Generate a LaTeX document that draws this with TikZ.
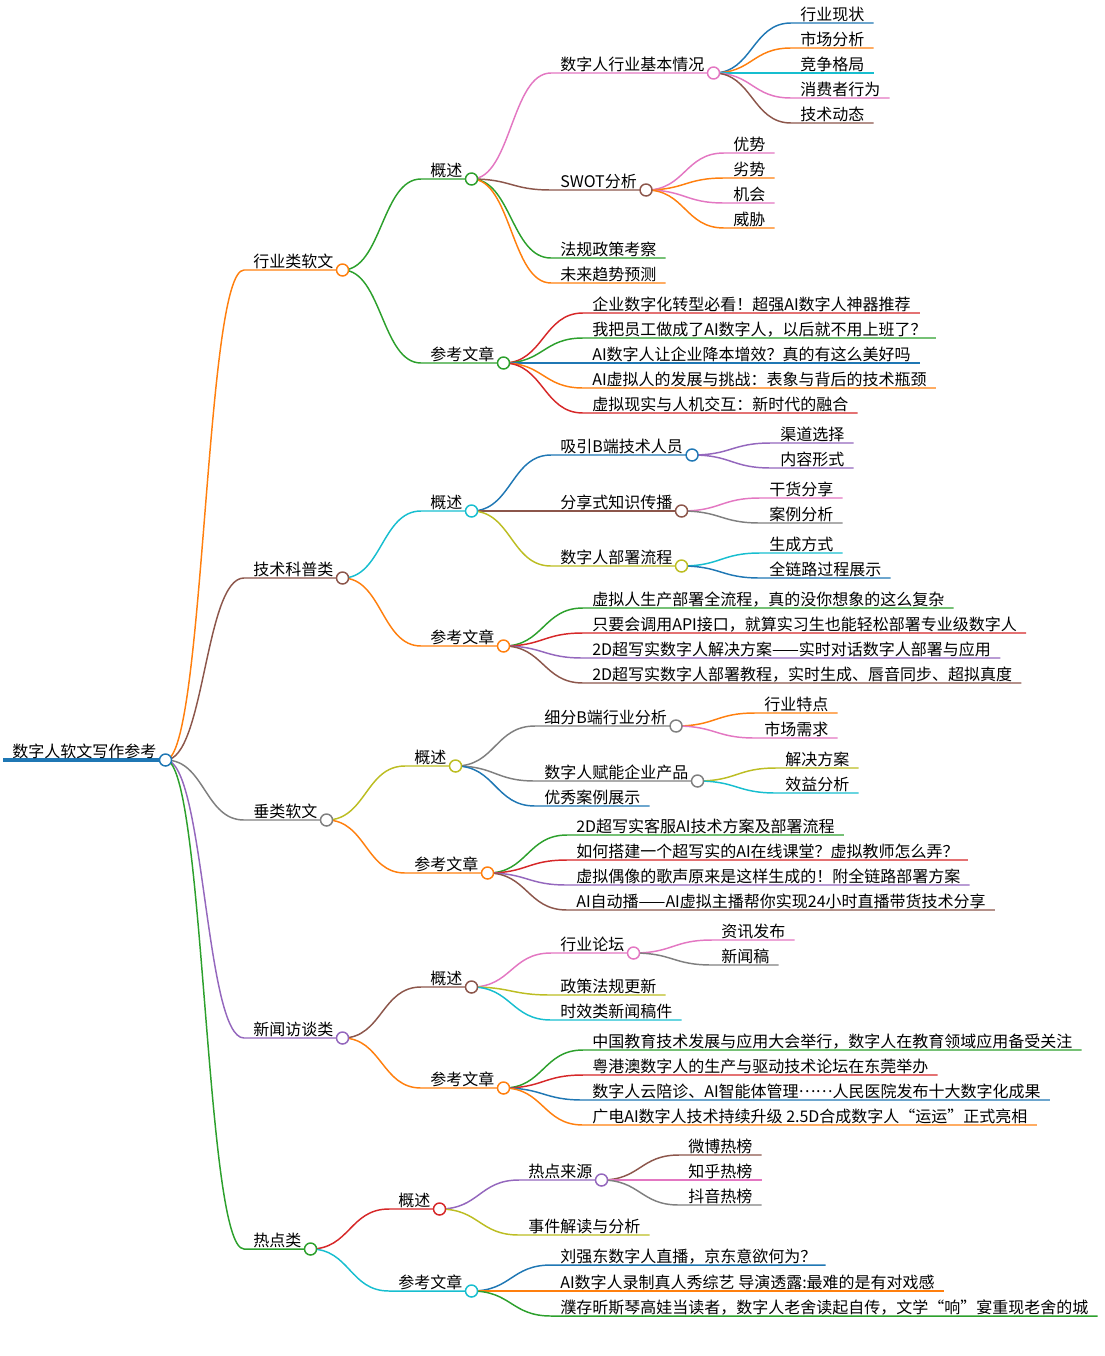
\documentclass[tikz,border=0pt]{standalone}
\usepackage{fontspec}
\setmainfont{Noto Sans CJK SC}
\usetikzlibrary{calc,backgrounds}

\definecolor{mBlue}{HTML}{1F77B4}
\definecolor{mOrange}{HTML}{FF7F0E}
\definecolor{mGreen}{HTML}{2CA02C}
\definecolor{mRed}{HTML}{D62728}
\definecolor{mPurple}{HTML}{9467BD}
\definecolor{mBrown}{HTML}{8C564B}
\definecolor{mPink}{HTML}{E377C2}
\definecolor{mGray}{HTML}{7F7F7F}
\definecolor{mOlive}{HTML}{BCBD22}
\definecolor{mCyan}{HTML}{17BECF}

\begin{document}
\begin{tikzpicture}[x=0.75pt,y=-0.75pt,
  topic/.style={anchor=south west,inner xsep=6.75pt,inner ysep=0.6pt,
    text height=0.8em,text depth=0.1em,font=\fontsize{12}{14}\selectfont},
  hub/.style={circle,draw=#1,fill=white,line width=1.1pt,minimum size=9pt,inner sep=0pt},
  link/.style={line width=1.1pt,
    to path={(\tikztostart.south east)
      .. controls ($(\tikztostart.south east)!0.5!(\tikztostart.south east -| \tikztotarget.south west)$)
      and ($(\tikztotarget.south west)!0.5!(\tikztotarget.south west -| \tikztostart.south east)$)
      .. (\tikztotarget.south west) -- (\tikztotarget.south east)}}]

  \useasboundingbox (0,0) rectangle (1104,1356);

  \node[topic] (root) at (3,760) {数字人软文写作参考};

  \node[topic] (ind) at (244,270) {行业类软文};
  \node[topic] (tech) at (244,578) {技术科普类};
  \node[topic] (vert) at (244,820) {垂类软文};
  \node[topic] (news) at (244,1038) {新闻访谈类};
  \node[topic] (hot) at (244,1249) {热点类};

  % 行业类软文
  \node[topic] (ind-ov) at (421,179) {概述};
  \node[topic] (ind-ref) at (421,363) {参考文章};

  \node[topic] (ind-ov-1) at (551,73) {数字人行业基本情况};
  \node[topic] (ind-ov-2) at (551,190) {SWOT分析};
  \node[topic] (ind-ov-3) at (551,258) {法规政策考察};
  \node[topic] (ind-ov-4) at (551,283) {未来趋势预测};

  \node[topic] (ind-ov-1a) at (791,23) {行业现状};
  \node[topic] (ind-ov-1b) at (791,48) {市场分析};
  \node[topic] (ind-ov-1c) at (791,73) {竞争格局};
  \node[topic] (ind-ov-1d) at (791,98) {消费者行为};
  \node[topic] (ind-ov-1e) at (791,123) {技术动态};

  \node[topic] (ind-ov-2a) at (724,153) {优势};
  \node[topic] (ind-ov-2b) at (724,178) {劣势};
  \node[topic] (ind-ov-2c) at (724,203) {机会};
  \node[topic] (ind-ov-2d) at (724,228) {威胁};

  \node[topic] (ind-ref-1) at (583,313) {企业数字化转型必看！超强AI数字人神器推荐};
  \node[topic] (ind-ref-2) at (583,338) {我把员工做成了AI数字人，以后就不用上班了？};
  \node[topic] (ind-ref-3) at (583,363) {AI数字人让企业降本增效？真的有这么美好吗};
  \node[topic] (ind-ref-4) at (583,388) {AI虚拟人的发展与挑战：表象与背后的技术瓶颈};
  \node[topic] (ind-ref-5) at (583,413) {虚拟现实与人机交互：新时代的融合};

  % 技术科普类
  \node[topic] (tech-ov) at (421,511) {概述};
  \node[topic] (tech-ref) at (421,646) {参考文章};

  \node[topic] (tech-ov-1) at (551,455) {吸引B端技术人员};
  \node[topic] (tech-ov-2) at (551,511) {分享式知识传播};
  \node[topic] (tech-ov-3) at (551,566) {数字人部署流程};

  \node[topic] (tech-ov-1a) at (771,443) {渠道选择};
  \node[topic] (tech-ov-1b) at (771,468) {内容形式};
  \node[topic] (tech-ov-2a) at (760,498) {干货分享};
  \node[topic] (tech-ov-2b) at (760,523) {案例分析};
  \node[topic] (tech-ov-3a) at (760,553) {生成方式};
  \node[topic] (tech-ov-3b) at (760,578) {全链路过程展示};

  \node[topic] (tech-ref-1) at (583,608) {虚拟人生产部署全流程，真的没你想象的这么复杂};
  \node[topic] (tech-ref-2) at (583,633) {只要会调用API接口，就算实习生也能轻松部署专业级数字人};
  \node[topic] (tech-ref-3) at (583,658) {2D超写实数字人解决方案——实时对话数字人部署与应用};
  \node[topic] (tech-ref-4) at (583,683) {2D超写实数字人部署教程，实时生成、唇音同步、超拟真度};

  % 垂类软文
  \node[topic] (vert-ov) at (405,766) {概述};
  \node[topic] (vert-ref) at (405,873) {参考文章};

  \node[topic] (vert-ov-1) at (535,726) {细分B端行业分析};
  \node[topic] (vert-ov-2) at (535,781) {数字人赋能企业产品};
  \node[topic] (vert-ov-3) at (535,806) {优秀案例展示};

  \node[topic] (vert-ov-1a) at (755,713) {行业特点};
  \node[topic] (vert-ov-1b) at (755,738) {市场需求};
  \node[topic] (vert-ov-2a) at (776,768) {解决方案};
  \node[topic] (vert-ov-2b) at (776,793) {效益分析};

  \node[topic] (vert-ref-1) at (567,835) {2D超写实客服AI技术方案及部署流程};
  \node[topic] (vert-ref-2) at (567,860) {如何搭建一个超写实的AI在线课堂？虚拟教师怎么弄？};
  \node[topic] (vert-ref-3) at (567,885) {虚拟偶像的歌声原来是这样生成的！附全链路部署方案};
  \node[topic] (vert-ref-4) at (567,910) {AI自动播——AI虚拟主播帮你实现24小时直播带货技术分享};

  % 新闻访谈类
  \node[topic] (news-ov) at (421,987) {概述};
  \node[topic] (news-ref) at (421,1088) {参考文章};

  \node[topic] (news-ov-1) at (551,953) {行业论坛};
  \node[topic] (news-ov-2) at (551,995) {政策法规更新};
  \node[topic] (news-ov-3) at (551,1020) {时效类新闻稿件};

  \node[topic] (news-ov-1a) at (712,940) {资讯发布};
  \node[topic] (news-ov-1b) at (712,965) {新闻稿};

  \node[topic] (news-ref-1) at (583,1050) {中国教育技术发展与应用大会举行，数字人在教育领域应用备受关注};
  \node[topic] (news-ref-2) at (583,1075) {粤港澳数字人的生产与驱动技术论坛在东莞举办};
  \node[topic] (news-ref-3) at (583,1100) {数字人云陪诊、AI智能体管理\raisebox{0.32em}{……}人民医院发布十大数字化成果};
  \node[topic] (news-ref-4) at (583,1125) {广电AI数字人技术持续升级 2.5D合成数字人“运运”正式亮相};

  % 热点类
  \node[topic] (hot-ov) at (389,1209) {概述};
  \node[topic] (hot-ref) at (389,1291) {参考文章};

  \node[topic] (hot-ov-1) at (519,1180) {热点来源};
  \node[topic] (hot-ov-2) at (519,1235) {事件解读与分析};

  \node[topic] (hot-ov-1a) at (679,1155) {微博热榜};
  \node[topic] (hot-ov-1b) at (679,1180) {知乎热榜};
  \node[topic] (hot-ov-1c) at (679,1205) {抖音热榜};

  \node[topic] (hot-ref-1) at (551,1265) {刘强东数字人直播，京东意欲何为？};
  \node[topic] (hot-ref-2) at (551,1291) {AI数字人录制真人秀综艺 导演透露:最难的是有对戏感};
  \node[topic] (hot-ref-3) at (551,1316) {濮存昕斯琴高娃当读者，数字人老舍读起自传，文学“响”宴重现老舍的城};

  \begin{pgfonlayer}{background}
    \draw[mBlue,line width=3pt] (root.south west) -- (root.south east);
    \path[link]
      (root) edge[mOrange] (ind)
      (root) edge[mBrown] (tech)
      (root) edge[mGray] (vert)
      (root) edge[mPurple] (news)
      (root) edge[mGreen] (hot)

      (ind) edge[mGreen] (ind-ov)
      (ind) edge[mGreen] (ind-ref)
      (ind-ov) edge[mPink] (ind-ov-1)
      (ind-ov) edge[mBrown] (ind-ov-2)
      (ind-ov) edge[mGreen] (ind-ov-3)
      (ind-ov) edge[mOrange] (ind-ov-4)
      (ind-ov-1) edge[mBlue] (ind-ov-1a)
      (ind-ov-1) edge[mOrange] (ind-ov-1b)
      (ind-ov-1) edge[mCyan] (ind-ov-1c)
      (ind-ov-1) edge[mPink] (ind-ov-1d)
      (ind-ov-1) edge[mBrown] (ind-ov-1e)
      (ind-ov-2) edge[mPink] (ind-ov-2a)
      (ind-ov-2) edge[mOrange] (ind-ov-2b)
      (ind-ov-2) edge[mPink] (ind-ov-2c)
      (ind-ov-2) edge[mOrange] (ind-ov-2d)
      (ind-ref) edge[mRed] (ind-ref-1)
      (ind-ref) edge[mGreen] (ind-ref-2)
      (ind-ref) edge[mBlue] (ind-ref-3)
      (ind-ref) edge[mOrange] (ind-ref-4)
      (ind-ref) edge[mRed] (ind-ref-5)

      (tech) edge[mCyan] (tech-ov)
      (tech) edge[mOrange] (tech-ref)
      (tech-ov) edge[mBlue] (tech-ov-1)
      (tech-ov) edge[mBrown] (tech-ov-2)
      (tech-ov) edge[mOlive] (tech-ov-3)
      (tech-ov-1) edge[mPurple] (tech-ov-1a)
      (tech-ov-1) edge[mPurple] (tech-ov-1b)
      (tech-ov-2) edge[mPink] (tech-ov-2a)
      (tech-ov-2) edge[mGray] (tech-ov-2b)
      (tech-ov-3) edge[mCyan] (tech-ov-3a)
      (tech-ov-3) edge[mBlue] (tech-ov-3b)
      (tech-ref) edge[mGreen] (tech-ref-1)
      (tech-ref) edge[mRed] (tech-ref-2)
      (tech-ref) edge[mPurple] (tech-ref-3)
      (tech-ref) edge[mBrown] (tech-ref-4)

      (vert) edge[mOlive] (vert-ov)
      (vert) edge[mOrange] (vert-ref)
      (vert-ov) edge[mGray] (vert-ov-1)
      (vert-ov) edge[mGray] (vert-ov-2)
      (vert-ov) edge[mBlue] (vert-ov-3)
      (vert-ov-1) edge[mOrange] (vert-ov-1a)
      (vert-ov-1) edge[mPink] (vert-ov-1b)
      (vert-ov-2) edge[mOlive] (vert-ov-2a)
      (vert-ov-2) edge[mCyan] (vert-ov-2b)
      (vert-ref) edge[mGreen] (vert-ref-1)
      (vert-ref) edge[mRed] (vert-ref-2)
      (vert-ref) edge[mPurple] (vert-ref-3)
      (vert-ref) edge[mBrown] (vert-ref-4)

      (news) edge[mBrown] (news-ov)
      (news) edge[mOrange] (news-ref)
      (news-ov) edge[mPink] (news-ov-1)
      (news-ov) edge[mOlive] (news-ov-2)
      (news-ov) edge[mCyan] (news-ov-3)
      (news-ov-1) edge[mPink] (news-ov-1a)
      (news-ov-1) edge[mGray] (news-ov-1b)
      (news-ref) edge[mGreen] (news-ref-1)
      (news-ref) edge[mRed] (news-ref-2)
      (news-ref) edge[mBlue] (news-ref-3)
      (news-ref) edge[mOrange] (news-ref-4)

      (hot) edge[mRed] (hot-ov)
      (hot) edge[mCyan] (hot-ref)
      (hot-ov) edge[mPurple] (hot-ov-1)
      (hot-ov) edge[mOlive] (hot-ov-2)
      (hot-ov-1) edge[mBrown] (hot-ov-1a)
      (hot-ov-1) edge[mPink] (hot-ov-1b)
      (hot-ov-1) edge[mGray] (hot-ov-1c)
      (hot-ref) edge[mBlue] (hot-ref-1)
      (hot-ref) edge[mOrange] (hot-ref-2)
      (hot-ref) edge[mGreen] (hot-ref-3);
  \end{pgfonlayer}

  % circles at the branch ends
  \node[hub=mBlue] (root-c) at (root.south east) {};
  \node[hub=mOrange] (ind-c) at (ind.south east) {};
  \node[hub=mBrown] (tech-c) at (tech.south east) {};
  \node[hub=mGray] (vert-c) at (vert.south east) {};
  \node[hub=mPurple] (news-c) at (news.south east) {};
  \node[hub=mGreen] (hot-c) at (hot.south east) {};

  \node[hub=mGreen] (ind-ov-c) at (ind-ov.south east) {};
  \node[hub=mGreen] (ind-ref-c) at (ind-ref.south east) {};
  \node[hub=mPink] (ind-ov-1-c) at (ind-ov-1.south east) {};
  \node[hub=mBrown] (ind-ov-2-c) at (ind-ov-2.south east) {};

  \node[hub=mCyan] (tech-ov-c) at (tech-ov.south east) {};
  \node[hub=mOrange] (tech-ref-c) at (tech-ref.south east) {};
  \node[hub=mBlue] (tech-ov-1-c) at (tech-ov-1.south east) {};
  \node[hub=mBrown] (tech-ov-2-c) at (tech-ov-2.south east) {};
  \node[hub=mOlive] (tech-ov-3-c) at (tech-ov-3.south east) {};

  \node[hub=mOlive] (vert-ov-c) at (vert-ov.south east) {};
  \node[hub=mOrange] (vert-ref-c) at (vert-ref.south east) {};
  \node[hub=mGray] (vert-ov-1-c) at (vert-ov-1.south east) {};
  \node[hub=mGray] (vert-ov-2-c) at (vert-ov-2.south east) {};

  \node[hub=mBrown] (news-ov-c) at (news-ov.south east) {};
  \node[hub=mOrange] (news-ref-c) at (news-ref.south east) {};
  \node[hub=mPink] (news-ov-1-c) at (news-ov-1.south east) {};

  \node[hub=mRed] (hot-ov-c) at (hot-ov.south east) {};
  \node[hub=mCyan] (hot-ref-c) at (hot-ref.south east) {};
  \node[hub=mPurple] (hot-ov-1-c) at (hot-ov-1.south east) {};

\end{tikzpicture}
\end{document}
